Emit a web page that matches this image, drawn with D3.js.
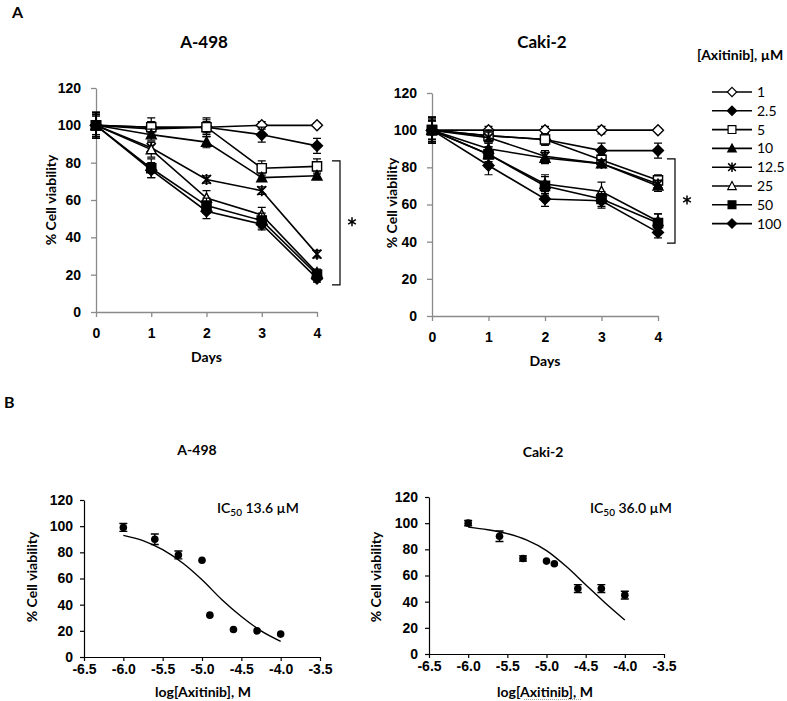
<!DOCTYPE html>
<html>
<head>
<meta charset="utf-8">
<script src="https://cdn.jsdelivr.net/npm/d3@7"></script>
<style>
  body { margin: 0; background: #fff; }
  svg { font-family: Lato, "Open Sans", sans-serif; }
  .tick text { font-weight: bold; fill: #000; }
</style>
</head>
<body>
<svg id="fig" width="787" height="701"></svg>
<script>
// data
const days = [0, 1, 2, 3, 4];
const concLabels = ["1", "2.5", "5", "10", "12.5", "25", "50", "100"];

// % viability per concentration (rows) per day (cols)
const a498Means = [
  [100, 99, 99, 100, 100],
  [100, 98, 99, 95, 89],
  [100, 99, 99, 77, 78],
  [100, 95, 91, 72, 73],
  [100, 88, 71, 65, 31],
  [100, 87, 61, 52, 21],
  [100, 77, 57, 49, 20],
  [100, 76, 54, 47, 18]
];
const a498Errors = [
  [5, 3, 3, 2, 1],
  [6, 4, 4, 4, 4],
  [7, 5, 5, 4, 4],
  [5, 3, 3, 2, 2],
  [6, 3, 2, 2, 2],
  [7, 4, 4, 4, 2],
  [7, 5, 4, 4, 2],
  [7, 4, 4, 3, 2]
];
const caki2Means = [
  [100, 100, 100, 100, 100],
  [100, 97, 95, 89, 89],
  [100, 97, 95, 84, 73],
  [100, 90, 85, 82, 70],
  [100, 96, 86, 82, 71],
  [100, 87, 71, 67, 51],
  [100, 87, 70, 63, 50],
  [100, 81, 63, 62, 45]
];
const caki2Errors = [
  [5, 2, 2, 2, 1],
  [6, 3, 3, 4, 4],
  [7, 3, 3, 3, 3],
  [5, 3, 3, 2, 3],
  [5, 3, 3, 2, 2],
  [6, 4, 5, 5, 4],
  [7, 4, 5, 4, 5],
  [7, 5, 4, 4, 3]
];

// dose response (day 4)
const logConc = [-6.0, -5.6, -5.3, -5.0, -4.9, -4.6, -4.3, -4.0];
const a498Dose = [99, 90, 78, 74, 32, 21, 20, 17.5];
const a498DoseErr = [3, 4, 3, 1, 1, 1, 1, 1];
const caki2Dose = [100, 90, 73, 71, 69, 50, 50, 45];
const caki2DoseErr = [2, 4, 2, 1, 1, 3, 3, 3];

// fitted curves as drawn
const curveX = [-6.0, -5.75, -5.5, -5.25, -5.0, -4.75, -4.5, -4.25, -4.0];
const a498Curve = [93, 89, 82, 72, 59, 44, 31, 20, 12];
const caki2Curve = [97, 95, 92, 87, 79, 67, 53, 39, 26];

const yTicks = [0, 20, 40, 60, 80, 100, 120];
const logTicks = [-6.5, -6.0, -5.5, -5.0, -4.5, -4.0, -3.5];

const markerTypes = ["diamondOpen", "diamond", "squareOpen", "triangle", "star", "triangleOpen", "square", "diamond"];

const svg = d3.select("#fig");

function markerPath(type) {
  if (type.startsWith("diamond")) return "M0,-5.5L5.5,0L0,5.5L-5.5,0Z";
  if (type.startsWith("square")) return "M-4.6,-4.6H4.6V4.6H-4.6Z";
  if (type.startsWith("triangle")) return "M0,-5.2L5,4.2H-5Z";
  // star: x + vertical stroke
  return "M-4.5,-4.5L4.5,4.5M-4.5,4.5L4.5,-4.5M0,-5.5V5.5";
}

function drawMarker(g, type, x, y) {
  const open = type.endsWith("Open");
  const p = g.append("path")
    .attr("d", markerPath(type))
    .attr("transform", `translate(${x},${y})`);
  if (type === "star") {
    p.attr("fill", "none").attr("stroke", "#000").attr("stroke-width", 1.8);
  } else {
    p.attr("fill", open ? "#fff" : "#000").attr("stroke", "#000").attr("stroke-width", 1.4);
  }
}

// significance asterisk as a small six-spoke path
function star(g, x, y) {
  const r = 4.5;
  const d = [90, 30, -30].map(a => {
    const t = a * Math.PI / 180;
    return `M${x - r * Math.cos(t)},${y - r * Math.sin(t)}L${x + r * Math.cos(t)},${y + r * Math.sin(t)}`;
  }).join("");
  g.append("path").attr("d", d)
    .attr("stroke", "#000").attr("stroke-width", 1.5).attr("fill", "none");
}

function timeCourse(opts) {
  const x = d3.scaleLinear().domain([0, 4]).range(opts.xr);
  const y = d3.scaleLinear().domain([0, 120]).range(opts.yr);
  const g = svg.append("g");

  const ya = g.append("g")
    .attr("transform", `translate(${opts.xr[0]},0)`)
    .call(d3.axisLeft(y).tickValues(yTicks).tickFormat(d3.format("d")).tickSize(5).tickSizeOuter(0).tickPadding(10));
  const xa = g.append("g")
    .attr("transform", `translate(0,${opts.yr[0]})`)
    .call(d3.axisBottom(x).tickValues(days).tickFormat(d3.format("d")).tickSize(5).tickSizeOuter(0).tickPadding(11));
  [ya, xa].forEach(a => {
    a.selectAll("path, line").attr("stroke", "#8a8a8a").attr("stroke-width", 1.3);
    a.selectAll("text").style("font-size", "14px");
  });

  g.append("text")
    .attr("x", opts.titleX).attr("y", 48)
    .attr("text-anchor", "middle")
    .style("font-size", "17px").style("font-weight", "bold")
    .text(opts.title);
  g.append("text")
    .attr("transform", `translate(${opts.ylabX},${opts.ylabY}) rotate(-90)`)
    .attr("text-anchor", "middle")
    .style("font-size", "14px").style("font-weight", "bold")
    .text("% Cell viability");
  g.append("text")
    .attr("x", (opts.xr[0] + opts.xr[1]) / 2).attr("y", opts.daysY)
    .attr("text-anchor", "middle")
    .style("font-size", "14px").style("font-weight", "bold")
    .text("Days");

  const line = d3.line().x((d, i) => x(days[i])).y(d => y(d));
  opts.means.forEach((row, s) => {
    const sg = g.append("g");
    sg.append("path").attr("d", line(row))
      .attr("fill", "none").attr("stroke", "#000").attr("stroke-width", 1.6);
    row.forEach((v, i) => {
      const e = opts.errors[s][i];
      const cx = x(days[i]);
      sg.append("path")
        .attr("d", `M${cx},${y(v - e)}V${y(v + e)}M${cx - 4},${y(v - e)}H${cx + 4}M${cx - 4},${y(v + e)}H${cx + 4}`)
        .attr("stroke", "#000").attr("stroke-width", 1.2).attr("fill", "none");
    });
    row.forEach((v, i) => drawMarker(sg, markerTypes[s], x(days[i]), y(v)));
  });

  // significance bracket
  const b = opts.bracket;
  g.append("path")
    .attr("d", `M${b.x - 8},${y(b.top)}H${b.x}V${y(b.bottom)}H${b.x - 8}`)
    .attr("fill", "none").attr("stroke", "#000").attr("stroke-width", 1.2);
  star(g, b.x + 12, y((b.top + b.bottom) / 2) - 1);
}

timeCourse({
  xr: [96, 317], yr: [312, 88], title: "A-498", titleX: 204,
  ylabX: 56, ylabY: 200, daysY: 362,
  means: a498Means, errors: a498Errors,
  bracket: { x: 340, top: 81, bottom: 14.5 }
});
timeCourse({
  xr: [432, 658], yr: [316, 93], title: "Caki-2", titleX: 542,
  ylabX: 397, ylabY: 203, daysY: 366,
  means: caki2Means, errors: caki2Errors,
  bracket: { x: 675, top: 84.6, bottom: 39.2 }
});

// legend
const leg = svg.append("g");
leg.append("text").attr("x", 697).attr("y", 60)
  .style("font-size", "14px").style("font-weight", "bold")
  .text("[Axitinib], \u00b5M");
concLabels.forEach((lab, i) => {
  const ly = 92 + i * 18.8;
  leg.append("line").attr("x1", 712).attr("x2", 752).attr("y1", ly).attr("y2", ly)
    .attr("stroke", "#000").attr("stroke-width", 1.6);
  const mg = leg.append("g").attr("transform", `translate(732,${ly}) scale(0.85)`);
  drawMarker(mg, markerTypes[i], 0, 0);
  leg.append("text").attr("x", 757).attr("y", ly + 5)
    .style("font-size", "14px").text(lab);
});

// panel letters
svg.append("text").attr("x", 12).attr("y", 18)
  .style("font-size", "16px").style("font-weight", "bold").text("A");
svg.append("text").attr("x", 4).attr("y", 408)
  .style("font-size", "16px").style("font-weight", "bold").text("B");

const hyphenFmt = d => d3.format(".1f")(d).replace("\u2212", "-");

function doseResponse(opts) {
  const x = d3.scaleLinear().domain([-6.5, -3.5]).range(opts.xr);
  const y = d3.scaleLinear().domain([0, 120]).range(opts.yr);
  const g = svg.append("g");

  const ya = g.append("g")
    .attr("transform", `translate(${opts.xr[0]},0)`)
    .call(d3.axisLeft(y).tickValues(yTicks).tickFormat(d3.format("d")).tickSize(4).tickSizeOuter(0).tickPadding(7));
  const xa = g.append("g")
    .attr("transform", `translate(0,${opts.yr[0]})`)
    .call(d3.axisBottom(x).tickValues(logTicks).tickFormat(hyphenFmt).tickSize(4).tickSizeOuter(0).tickPadding(3));
  [ya, xa].forEach(a => {
    a.selectAll("path, line").attr("stroke", "#000").attr("stroke-width", 1.2);
    a.selectAll("text").style("font-size", "14px");
  });

  g.append("text")
    .attr("x", opts.titleX).attr("y", opts.titleY)
    .attr("text-anchor", "middle")
    .style("font-size", "14px").style("font-weight", "bold")
    .text(opts.title);
  g.append("text")
    .attr("transform", `translate(${opts.ylabX},577) rotate(-90)`)
    .attr("text-anchor", "middle")
    .style("font-size", "14px").style("font-weight", "bold")
    .text("% Cell viability");
  const xl = g.append("text")
    .attr("x", opts.xlabX).attr("y", 697)
    .attr("text-anchor", "middle")
    .style("font-size", "14px").style("font-weight", "bold")
    .text("log[Axitinib], M");
  if (opts.underline) {
    // spell-check style dotted underline under "Axitinib"
    const bb = xl.node().getBBox();
    g.append("line")
      .attr("x1", bb.x + 27).attr("x2", bb.x + 84)
      .attr("y1", 699.5).attr("y2", 699.5)
      .attr("stroke", "#9a9a9a").attr("stroke-width", 1)
      .attr("stroke-dasharray", "1,1");
  }

  const t = g.append("text").attr("x", opts.icX).attr("y", 513)
    .style("font-size", "14px").style("font-weight", "600");
  t.append("tspan").text("IC");
  t.append("tspan").attr("dy", 3).style("font-size", "10px").text("50");
  t.append("tspan").attr("dy", -3).text(" " + opts.ic);

  const line = d3.line().x((d, i) => x(curveX[i])).y(d => y(d)).curve(d3.curveMonotoneX);
  g.append("path").attr("d", line(opts.curve))
    .attr("fill", "none").attr("stroke", "#000").attr("stroke-width", 1.4);

  opts.vals.forEach((v, i) => {
    const cx = x(logConc[i]);
    const e = opts.errs[i];
    if (e > 1) {
      g.append("path")
        .attr("d", `M${cx},${y(v - e)}V${y(v + e)}M${cx - 4},${y(v - e)}H${cx + 4}M${cx - 4},${y(v + e)}H${cx + 4}`)
        .attr("stroke", "#000").attr("stroke-width", 1.4).attr("fill", "none");
    }
    g.append("circle").attr("cx", cx).attr("cy", y(v)).attr("r", 3.8).attr("fill", "#000");
  });
}

doseResponse({
  xr: [84, 320], yr: [657, 500], title: "A-498", titleX: 197, titleY: 455,
  ylabX: 37, xlabX: 203, icX: 217, ic: "13.6 \u00b5M",
  vals: a498Dose, errs: a498DoseErr, curve: a498Curve
});
doseResponse({
  xr: [429, 664], yr: [654, 497], title: "Caki-2", titleX: 543, titleY: 457,
  ylabX: 381, xlabX: 545, icX: 590, ic: "36.0 \u00b5M", underline: true,
  vals: caki2Dose, errs: caki2DoseErr, curve: caki2Curve
});
</script>
</body>
</html>
